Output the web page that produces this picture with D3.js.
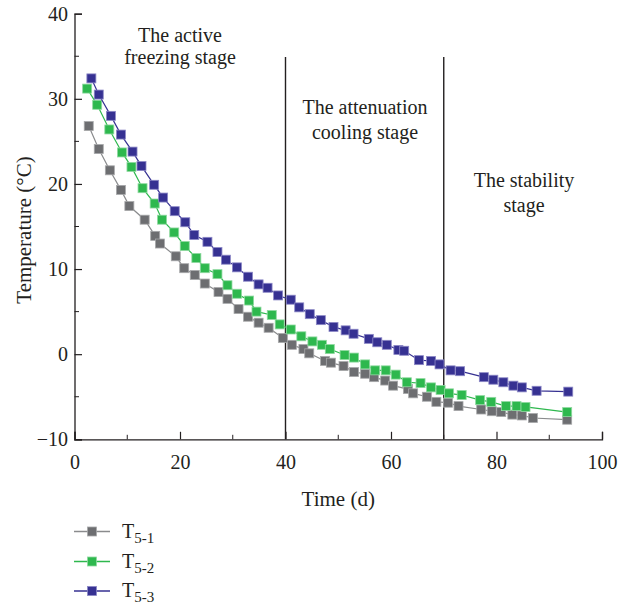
<!DOCTYPE html>
<html>
<head>
<meta charset="utf-8">
<script src="https://cdn.jsdelivr.net/npm/d3@7"></script>
<style>
  body { margin: 0; background: #fff; }
  svg text { font-family: "Liberation Serif", "Times New Roman", serif; fill: #231f20; }
</style>
</head>
<body>
<svg width="634" height="610"></svg>
<script>
// data (time in days, temperature in °C)
const t51x = [2.7, 4.6, 6.7, 8.8, 10.4, 13.3, 15.3, 16.2, 19.2, 20.8, 22.8, 24.7, 27.3, 29.0, 31.1, 32.9, 34.9, 36.8, 39.5, 41.2, 43.4, 44.5, 47.5, 48.6, 51.0, 53.0, 55.1, 56.8, 58.9, 60.4, 63.2, 64.2, 66.8, 68.6, 70.8, 72.8, 77.1, 79.1, 80.9, 83.0, 84.8, 86.9, 93.4];
const t51y = [26.8, 24.1, 21.6, 19.3, 17.4, 15.8, 13.9, 13.0, 11.5, 10.1, 9.3, 8.3, 7.3, 6.5, 5.3, 4.4, 3.7, 3.1, 1.9, 1.1, 0.6, 0.1, -0.8, -1.0, -1.4, -2.1, -2.3, -2.7, -3.1, -3.7, -4.1, -4.6, -5.0, -5.6, -5.7, -6.1, -6.5, -6.7, -6.8, -7.1, -7.2, -7.5, -7.7];

const t52x = [2.4, 4.3, 6.6, 9.0, 10.8, 12.9, 15.2, 16.6, 18.9, 20.9, 23.1, 24.7, 27.1, 29.0, 30.8, 33.1, 34.5, 37.4, 38.9, 41.0, 43.0, 45.1, 46.9, 48.4, 51.2, 53.0, 55.1, 57.0, 59.0, 60.9, 63.0, 65.6, 67.6, 69.4, 71.0, 73.4, 76.9, 79.0, 81.8, 83.8, 85.5, 93.4];
const t52y = [31.2, 29.3, 26.4, 23.7, 22.0, 19.5, 17.7, 15.8, 14.3, 12.7, 11.3, 10.1, 9.4, 8.1, 7.1, 6.3, 5.0, 4.6, 3.5, 2.9, 2.1, 1.5, 1.1, 0.6, -0.1, -0.4, -1.2, -1.9, -1.9, -2.4, -3.3, -3.4, -3.9, -4.2, -4.6, -4.8, -5.4, -5.6, -6.1, -6.1, -6.2, -6.8];

const t53x = [3.2, 4.6, 6.9, 8.8, 11.0, 12.7, 15.1, 16.8, 19.0, 21.0, 22.7, 25.2, 27.1, 28.7, 30.8, 32.9, 34.9, 36.6, 38.6, 41.0, 42.6, 44.6, 46.7, 49.1, 51.4, 52.9, 55.8, 57.4, 59.2, 61.4, 62.5, 65.3, 67.6, 69.2, 71.3, 73.1, 77.6, 79.4, 81.3, 83.2, 84.8, 87.6, 93.6];
const t53y = [32.4, 30.5, 28.0, 25.8, 23.8, 22.1, 19.9, 18.4, 16.8, 15.5, 14.0, 13.2, 12.0, 11.1, 10.2, 9.1, 8.2, 7.8, 6.9, 6.4, 5.5, 4.7, 4.0, 3.2, 2.8, 2.4, 1.8, 1.4, 1.1, 0.5, 0.4, -0.7, -0.8, -1.2, -1.9, -2.0, -2.7, -3.0, -3.3, -3.7, -3.9, -4.3, -4.4];

const seriesNames = ["5-1", "5-2", "5-3"];
const seriesColors = ["#6d6e71", "#2eb84e", "#363192"];
const seriesStroke = ["#a7a8aa", "#8fd9a0", "#8c88c6"];
const lineColors = ["#8a8b8d", "#2eb84e", "#363192"];

const xTicks = [0, 20, 40, 60, 80, 100];
const xMinor = [10, 30, 50, 70, 90];
const yTicks = [-10, 0, 10, 20, 30, 40];
const yMinor = [-5, 5, 15, 25, 35];
const stageLines = [40, 70];

const series = [
  d3.zip(t51x, t51y),
  d3.zip(t52x, t52y),
  d3.zip(t53x, t53y)
];

const svg = d3.select("svg");
const mLeft = 74.5, mRight = 602, mTop = 13.7, mBottom = 439.3;

const x = d3.scaleLinear().domain([0, 100]).range([mLeft, mRight]);
const y = d3.scaleLinear().domain([-10, 40]).range([mBottom, mTop]);

// axes, ticks pointing inwards
const xAxis = svg.append("g").attr("transform", `translate(0,${mBottom})`)
  .call(d3.axisBottom(x).tickValues(xTicks).tickSize(-7.5).tickPadding(0).tickFormat(d3.format("d")));
xAxis.selectAll("text").attr("dy", null).attr("y", 30).style("font-size", "20px");
xAxis.append("g").selectAll("line").data(xMinor).join("line")
  .attr("x1", d => x(d)).attr("x2", d => x(d)).attr("y1", 0).attr("y2", -4.5)
  .attr("stroke", "#231f20");

const yAxis = svg.append("g").attr("transform", `translate(${mLeft},0)`)
  .call(d3.axisLeft(y).tickValues(yTicks).tickSize(-7.5).tickPadding(0)
    .tickFormat(d => d < 0 ? "\u2212" + Math.abs(d) : d));
yAxis.selectAll("text").attr("x", -6.5).attr("dy", "0.33em").style("font-size", "20px");
yAxis.append("g").selectAll("line").data(yMinor).join("line")
  .attr("y1", d => y(d)).attr("y2", d => y(d)).attr("x1", 0).attr("x2", 4.5)
  .attr("stroke", "#231f20");

svg.selectAll(".domain").attr("stroke", "#231f20").attr("stroke-width", 1.3);
svg.selectAll(".tick line").attr("stroke", "#231f20").attr("stroke-width", 1.2);

// axis titles
svg.append("text").attr("x", (mLeft + mRight) / 2).attr("y", 506)
  .attr("text-anchor", "middle").style("font-size", "21px").text("Time (d)");
svg.append("text").attr("transform", "translate(31,230) rotate(-90)")
  .attr("text-anchor", "middle").style("font-size", "21px").text("Temperature (\u00b0C)");

// stage boundaries
svg.append("g").selectAll("line").data(stageLines).join("line")
  .attr("x1", d => x(d)).attr("x2", d => x(d))
  .attr("y1", 57).attr("y2", mBottom)
  .attr("stroke", "#231f20").attr("stroke-width", 1.4);

// stage labels
const notes = [
  { cx: 180, lines: [["The active", 41.5], ["freezing stage", 64]] },
  { cx: 365, lines: [["The attenuation", 114], ["cooling stage", 139]] },
  { cx: 524, lines: [["The stability", 187], ["stage", 212]] }
];
notes.forEach(n => {
  n.lines.forEach(([txt, by]) => {
    svg.append("text").attr("x", n.cx).attr("y", by).attr("text-anchor", "middle")
      .style("font-size", "20px").text(txt);
  });
});

// series
const line = d3.line().x(d => x(d[0])).y(d => y(d[1]));
series.forEach((pts, i) => {
  const g = svg.append("g");
  g.append("path").datum(pts).attr("d", line)
    .attr("fill", "none").attr("stroke", lineColors[i]).attr("stroke-width", 1.2);
  g.selectAll("rect").data(pts).join("rect")
    .attr("x", d => x(d[0]) - 4.5).attr("y", d => y(d[1]) - 4.5)
    .attr("width", 9).attr("height", 9)
    .attr("fill", seriesColors[i]).attr("stroke", seriesStroke[i]).attr("stroke-width", 0.8);
});

// legend
const legendY = [531.5, 561.5, 591];
seriesNames.forEach((nm, i) => {
  const g = svg.append("g").attr("transform", `translate(0,${legendY[i]})`);
  g.append("line").attr("x1", 74).attr("x2", 110)
    .attr("stroke", lineColors[i]).attr("stroke-width", 1.4);
  g.append("rect").attr("x", 87.5).attr("y", -4.5).attr("width", 9).attr("height", 9)
    .attr("fill", seriesColors[i]).attr("stroke", seriesStroke[i]).attr("stroke-width", 0.8);
  const t = g.append("text").attr("x", 122).attr("y", 6).style("font-size", "20px");
  t.append("tspan").text("T");
  t.append("tspan").attr("dy", 5).style("font-size", "15px").text(nm);
});
</script>
</body>
</html>
